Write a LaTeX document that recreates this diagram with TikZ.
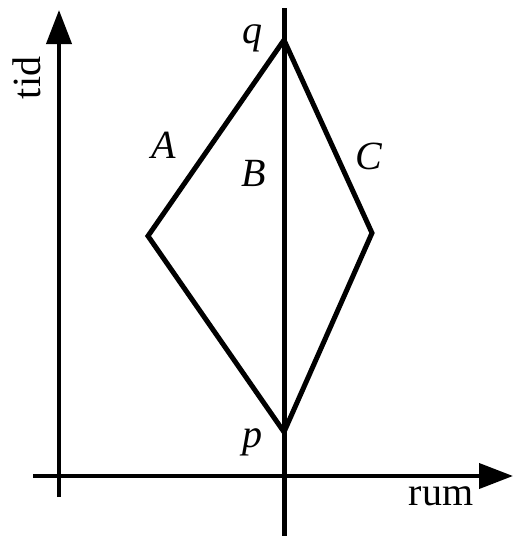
\documentclass[tikz,border=0pt]{standalone}
\usepackage{fontspec}
\setmainfont{Liberation Serif}
\usetikzlibrary{arrows.meta}
\begin{document}
\begin{tikzpicture}[x=1pt,y=-1pt,
  axis/.style={line width=4pt,-{Triangle[length=34pt,width=25pt]}},
  world/.style={line width=5pt,line join=miter},
  lbl/.style={font=\fontsize{40}{44}\selectfont\itshape,inner sep=0pt},
  axlbl/.style={font=\fontsize{40}{44}\selectfont,inner sep=0pt}]
\useasboundingbox (0,0) rectangle (520,536);
% axes
\coordinate (ya) at (59,497);
\coordinate (yb) at (59,10);
\coordinate (xa) at (33,476);
\coordinate (xb) at (513,476);
\draw[axis] (ya) -- (yb);
\draw[axis] (xa) -- (xb);
% world lines
\coordinate (q) at (284,40);
\coordinate (p) at (284,432);
\coordinate (l) at (148,236);
\coordinate (r) at (372,233);
\coordinate (top) at (284,8);
\coordinate (bot) at (284,536);
\draw[world] (top) -- (bot);
\draw[world] (q) -- (l) -- (p) -- (r) -- cycle;
% labels
\node[lbl] (lq) at (252,38) {q};
\node[lbl] (lp) at (252,442) {p};
\node[lbl] (lA) at (164,145) {A};
\node[lbl] (lB) at (254,173) {B};
\node[lbl] (lC) at (369,156) {C};
\node[axlbl,rotate=90] (ltid) at (27,78) {tid};
\node[axlbl] (lrum) at (441,496) {rum};
\end{tikzpicture}
\end{document}
